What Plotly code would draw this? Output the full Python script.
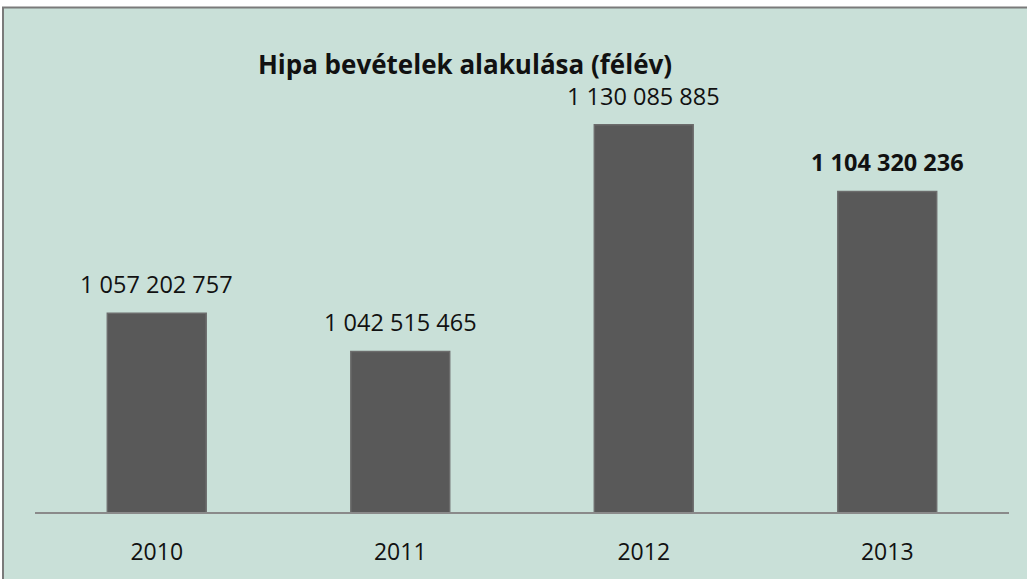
import plotly.graph_objects as go

years = ["2010", "2011", "2012", "2013"]
values = [1057202757, 1042515465, 1130085885, 1104320236]
labels = ["1 057 202 757", "1 042 515 465", "1 130 085 885", "1 104 320 236"]
label_bold = [False, False, False, True]
title_text = "Hipa bevételek alakulása (félév)"

BG = "#c9e0d8"
W, H = 1027, 579
ML, MR, MT, MB = 35, 18, 80, 64

fig = go.Figure()
fig.add_trace(go.Bar(
    x=years, y=values,
    marker=dict(color="#595959", line=dict(color="#6c6c6c", width=1.5)),
    width=0.406,
    hoverinfo="skip",
))

for i, (v, lab, b) in enumerate(zip(values, labels, label_bold)):
    fig.add_annotation(
        x=i, y=v, text=f"<b>{lab}</b>" if b else lab,
        showarrow=False, yanchor="bottom", yshift=11,
        font=dict(family="Open Sans", size=23.5, color="#111111"),
    )

# frame: white strip on top/left, grey border
pw = W - ML - MR
ph = H - MT - MB
def px(x):
    return (x - ML) / pw
def py(y):
    return (H - MB - y) / ph

fig.add_shape(type="rect", xref="paper", yref="paper",
              x0=px(-5), x1=px(W + 5), y0=py(7), y1=py(-5),
              fillcolor="white", line=dict(width=0), layer="below")
fig.add_shape(type="rect", xref="paper", yref="paper",
              x0=px(-5), x1=px(3), y0=py(H + 5), y1=py(-5),
              fillcolor="white", line=dict(width=0), layer="below")
fig.add_shape(type="rect", xref="paper", yref="paper",
              x0=px(3), x1=px(W + 20), y0=py(H + 20), y1=py(7),
              fillcolor="rgba(0,0,0,0)", line=dict(color="#7a7a7a", width=2), layer="above")

fig.update_layout(
    width=W, height=H,
    margin=dict(l=ML, r=MR, t=MT, b=MB),
    paper_bgcolor=BG, plot_bgcolor=BG,
    showlegend=False,
    title=dict(text=f"<b>{title_text}</b>", x=465 / W, xanchor="center",
               y=1 - 65 / H, yanchor="middle",
               font=dict(family="Open Sans", size=26, color="#111111")),
    xaxis=dict(type="category", range=[-0.5, len(years) - 0.5],
               showgrid=False, showline=True, linecolor="#8a8a8a", linewidth=1.5,
               ticks="", ticklabelstandoff=19,
               tickfont=dict(family="Open Sans", size=23, color="#111111")),
    yaxis=dict(range=[980.48e6, 1147.34e6], visible=False, showgrid=False, fixedrange=True),
)

fig.write_html("out.html", config={"displayModeBar": False},
               post_script="document.body.style.margin='0';document.body.style.padding='0';")
